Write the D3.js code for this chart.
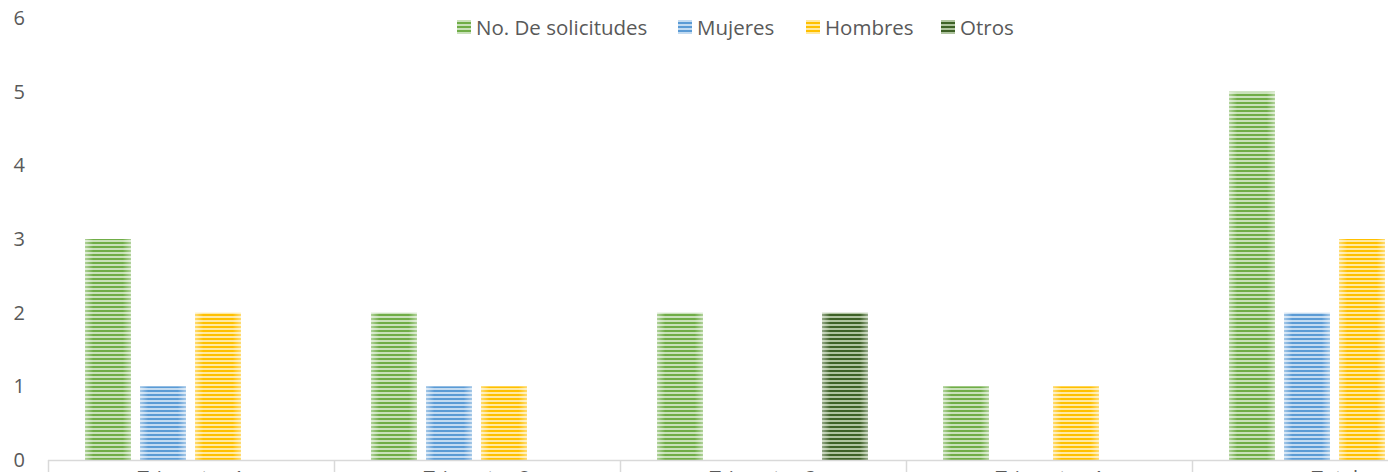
<!DOCTYPE html>
<html>
<head>
<meta charset="utf-8">
<script src="https://cdn.jsdelivr.net/npm/d3@7"></script>
<style>
  html, body { margin: 0; padding: 0; background: #fff; overflow: hidden; }
  text { font-family: "Open Sans", sans-serif; fill: #595959; }
</style>
</head>
<body>
<svg id="chart" width="1388" height="472"></svg>
<script>
const categories = ["Trimestre 1", "Trimestre 2", "Trimestre 3", "Trimestre 4", "Total"]
const seriesNames = ["No. De solicitudes", "Mujeres", "Hombres", "Otros"]
const solicitudes = [3, 2, 2, 1, 5]
const mujeres = [1, 1, 0, 0, 2]
const hombres = [2, 1, 0, 1, 3]
const otros = [0, 0, 2, 0, 0]
const yTicks = [0, 1, 2, 3, 4, 5, 6]

const seriesValues = [solicitudes, mujeres, hombres, otros]
const colors = [
    {dark: "#70AD47", light: "#c9e1ba"},
    {dark: "#5B9BD5", light: "#c3dbf1"},
    {dark: "#FFC000", light: "#ffe9a3"},
    {dark: "#3d6126", light: "#aec39e"}
]
const legendX = [457, 678, 806, 941]

const svg = d3.select("#chart")
const defs = svg.append("defs")

// striped fills
colors.forEach((c, i) => {
    const p = defs.append("pattern")
        .attr("id", "stripe" + i)
        .attr("patternUnits", "userSpaceOnUse")
        .attr("width", 4)
        .attr("height", 4)
    p.append("rect").attr("width", 4).attr("height", 4).attr("fill", c.light)
    p.append("rect").attr("y", 2).attr("width", 4).attr("height", 2).attr("fill", c.dark)
})
const grad = defs.append("linearGradient").attr("id", "edge")
grad.append("stop").attr("offset", "0%").attr("stop-color", "#fff").attr("stop-opacity", 0.45)
grad.append("stop").attr("offset", "18%").attr("stop-color", "#fff").attr("stop-opacity", 0)
grad.append("stop").attr("offset", "82%").attr("stop-color", "#fff").attr("stop-opacity", 0)
grad.append("stop").attr("offset", "100%").attr("stop-color", "#fff").attr("stop-opacity", 0.45)

const x0 = d3.scaleBand()
    .domain(categories)
    .range([48, 48 + 5 * 286])
const x1 = d3.scaleBand()
    .domain(seriesNames)
    .range([37, 286 - 38])
    .paddingInner(0.164)
const y = d3.scaleLinear()
    .domain([0, 6])
    .range([460, 18])

// y axis labels
const yAxis = svg.append("g")
    .attr("transform", "translate(29,0)")
    .call(d3.axisLeft(y).tickValues(yTicks).tickSize(0).tickPadding(4).tickFormat(d3.format("d")))
yAxis.select(".domain").remove()
yAxis.selectAll("text")
    .attr("font-size", 20)
    .attr("font-family", null)
    .attr("fill", "#595959")

// bars
const groups = svg.append("g")
    .selectAll("g")
    .data(categories)
    .join("g")
    .attr("transform", d => `translate(${x0(d)},0)`)

groups.each(function(cat, ci) {
    const g = d3.select(this)
    const data = seriesNames.map((s, si) => ({s, si, v: seriesValues[si][ci]}))
        .filter(d => d.v > 0)
    g.selectAll("rect.bar")
        .data(data)
        .join("rect")
        .attr("class", "bar")
        .attr("x", d => x1(d.s))
        .attr("y", d => y(d.v))
        .attr("width", x1.bandwidth())
        .attr("height", d => y(0) - y(d.v))
        .attr("fill", d => `url(#stripe${d.si})`)
    g.selectAll("rect.edge")
        .data(data)
        .join("rect")
        .attr("class", "edge")
        .attr("x", d => x1(d.s))
        .attr("y", d => y(d.v))
        .attr("width", x1.bandwidth())
        .attr("height", d => y(0) - y(d.v))
        .attr("fill", "url(#edge)")
})

// category axis
svg.append("line")
    .attr("x1", 48).attr("x2", 1388)
    .attr("y1", y(0) + 0.5).attr("y2", y(0) + 0.5)
    .attr("stroke", "#d9d9d9")
    .attr("stroke-width", 1.5)
svg.append("g")
    .selectAll("line")
    .data(categories)
    .join("line")
    .attr("x1", d => x0(d) + 0.5).attr("x2", d => x0(d) + 0.5)
    .attr("y1", y(0)).attr("y2", 472)
    .attr("stroke", "#d9d9d9")
    .attr("stroke-width", 1.5)
svg.append("g")
    .selectAll("text")
    .data(categories)
    .join("text")
    .attr("x", d => x0(d) + x0.bandwidth() / 2)
    .attr("y", 485)
    .attr("text-anchor", "middle")
    .attr("font-size", 20)
    .text(d => d)

// legend
const legend = svg.append("g")
    .selectAll("g")
    .data(seriesNames)
    .join("g")
    .attr("transform", (d, i) => `translate(${legendX[i]},20)`)
legend.append("rect")
    .attr("width", 14)
    .attr("height", 14)
    .attr("fill", (d, i) => `url(#stripe${i})`)
legend.append("text")
    .attr("x", 19)
    .attr("y", 14.5)
    .attr("font-size", 20.5)
    .text(d => d)
</script>
</body>
</html>
